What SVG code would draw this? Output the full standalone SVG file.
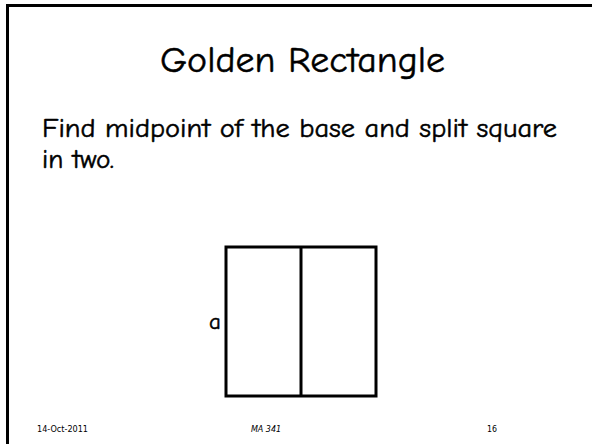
<svg xmlns="http://www.w3.org/2000/svg" width="592" height="444" viewBox="0 0 592 444">
<style>
.t{font-family:"Comic Sans MS","Comic Neue","DejaVu Sans",sans-serif;fill:#000;stroke:#000;stroke-width:0.5}
.f{font-family:"Comic Sans MS","DejaVu Sans",sans-serif;font-size:8px;fill:#000}
.ln{stroke:#000;stroke-width:3;fill:none}
</style>
<rect x="0" y="0" width="592" height="444" fill="#fff"/>
<path d="M7.5 450 V5.5 H600" stroke="#000" stroke-width="3" fill="none"/>
<text class="t" x="160" y="72" font-size="37" textLength="285" lengthAdjust="spacingAndGlyphs">Golden Rectangle</text>
<text class="t" x="42" y="137" font-size="26" textLength="515" lengthAdjust="spacingAndGlyphs">Find midpoint of the base and split square</text>
<text class="t" x="42" y="168" font-size="26" textLength="72" lengthAdjust="spacingAndGlyphs">in two.</text>
<g id="square">
<rect class="ln" x="226" y="247" width="150" height="149"/>
</g>
<g id="connectors">
<line class="ln" x1="301" y1="247" x2="301" y2="396"/>
</g>
<text class="t" x="209" y="329" font-size="23">a</text>
<text class="f" x="37" y="432" textLength="51" lengthAdjust="spacingAndGlyphs">14-Oct-2011</text>
<text class="f" x="266" y="432" text-anchor="middle" font-style="italic">MA 341</text>
<text class="f" x="487" y="432" textLength="10" lengthAdjust="spacingAndGlyphs">16</text>
</svg>
